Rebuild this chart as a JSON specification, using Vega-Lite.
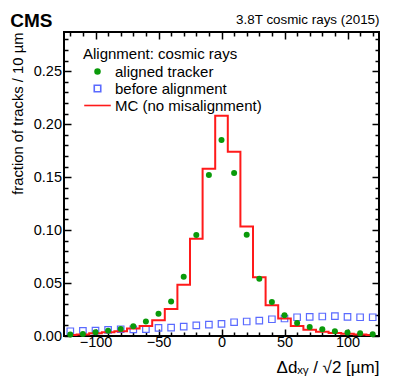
{
  "$schema": "https://vega.github.io/schema/vega-lite/v6.json",
  "width": 315,
  "height": 304,
  "autosize": "none",
  "padding": {"left": 64, "top": 32, "right": 20, "bottom": 51},
  "background": "white",
  "config": {
    "font": "Liberation Sans",
    "view": {"stroke": "black", "strokeWidth": 2},
    "axis": {"domain": false, "grid": false, "tickColor": "black", "tickWidth": 1.5, "labelColor": "black", "titleColor": "black", "labelFont": "Liberation Sans", "titleFont": "Liberation Sans", "titleFontWeight": "normal", "labelFontSize": 14.5},
    "legend": {"titleFont": "Liberation Sans", "labelFont": "Liberation Sans", "titleColor": "black", "labelColor": "black"}
  },
  "title": {"text": "CMS", "anchor": "start", "fontSize": 19, "fontWeight": "bold", "font": "Liberation Sans", "color": "black", "offset": -19},
  "data": {"values": [
    {"series": "aligned tracker", "x": -120, "y": 0.0013},
    {"series": "aligned tracker", "x": -110, "y": 0.002},
    {"series": "aligned tracker", "x": -100, "y": 0.0035},
    {"series": "aligned tracker", "x": -90, "y": 0.005},
    {"series": "aligned tracker", "x": -80, "y": 0.0067},
    {"series": "aligned tracker", "x": -70, "y": 0.0092},
    {"series": "aligned tracker", "x": -60, "y": 0.0137},
    {"series": "aligned tracker", "x": -50, "y": 0.0209},
    {"series": "aligned tracker", "x": -40, "y": 0.0326},
    {"series": "aligned tracker", "x": -30, "y": 0.056},
    {"series": "aligned tracker", "x": -20, "y": 0.0953},
    {"series": "aligned tracker", "x": -10, "y": 0.152},
    {"series": "aligned tracker", "x": 0, "y": 0.185},
    {"series": "aligned tracker", "x": 10, "y": 0.154},
    {"series": "aligned tracker", "x": 20, "y": 0.0955},
    {"series": "aligned tracker", "x": 30, "y": 0.054},
    {"series": "aligned tracker", "x": 40, "y": 0.032},
    {"series": "aligned tracker", "x": 50, "y": 0.0196},
    {"series": "aligned tracker", "x": 60, "y": 0.0123},
    {"series": "aligned tracker", "x": 70, "y": 0.0085},
    {"series": "aligned tracker", "x": 80, "y": 0.0064},
    {"series": "aligned tracker", "x": 90, "y": 0.0045},
    {"series": "aligned tracker", "x": 100, "y": 0.0032},
    {"series": "aligned tracker", "x": 110, "y": 0.0026},
    {"series": "aligned tracker", "x": 120, "y": 0.0016},
    {"series": "before alignment", "x": -120, "y": 0.0045},
    {"series": "before alignment", "x": -110, "y": 0.0048},
    {"series": "before alignment", "x": -100, "y": 0.005},
    {"series": "before alignment", "x": -90, "y": 0.0057},
    {"series": "before alignment", "x": -80, "y": 0.0064},
    {"series": "before alignment", "x": -70, "y": 0.0062},
    {"series": "before alignment", "x": -60, "y": 0.0064},
    {"series": "before alignment", "x": -50, "y": 0.0076},
    {"series": "before alignment", "x": -40, "y": 0.0079},
    {"series": "before alignment", "x": -30, "y": 0.0089},
    {"series": "before alignment", "x": -20, "y": 0.0101},
    {"series": "before alignment", "x": -10, "y": 0.0108},
    {"series": "before alignment", "x": 0, "y": 0.0114},
    {"series": "before alignment", "x": 10, "y": 0.013},
    {"series": "before alignment", "x": 20, "y": 0.0137},
    {"series": "before alignment", "x": 30, "y": 0.0146},
    {"series": "before alignment", "x": 40, "y": 0.0158},
    {"series": "before alignment", "x": 50, "y": 0.0165},
    {"series": "before alignment", "x": 60, "y": 0.0177},
    {"series": "before alignment", "x": 70, "y": 0.018},
    {"series": "before alignment", "x": 80, "y": 0.0184},
    {"series": "before alignment", "x": 90, "y": 0.0187},
    {"series": "before alignment", "x": 100, "y": 0.018},
    {"series": "before alignment", "x": 110, "y": 0.0177},
    {"series": "before alignment", "x": 120, "y": 0.0177},
    {"series": "MC (no misalignment)", "x": -120, "y": 0.001},
    {"series": "MC (no misalignment)", "x": -110, "y": 0.0015},
    {"series": "MC (no misalignment)", "x": -100, "y": 0.0025},
    {"series": "MC (no misalignment)", "x": -90, "y": 0.0035},
    {"series": "MC (no misalignment)", "x": -80, "y": 0.0045},
    {"series": "MC (no misalignment)", "x": -70, "y": 0.007},
    {"series": "MC (no misalignment)", "x": -60, "y": 0.0095},
    {"series": "MC (no misalignment)", "x": -50, "y": 0.0149},
    {"series": "MC (no misalignment)", "x": -40, "y": 0.0256},
    {"series": "MC (no misalignment)", "x": -30, "y": 0.0484},
    {"series": "MC (no misalignment)", "x": -20, "y": 0.0917},
    {"series": "MC (no misalignment)", "x": -10, "y": 0.158},
    {"series": "MC (no misalignment)", "x": 0, "y": 0.208},
    {"series": "MC (no misalignment)", "x": 10, "y": 0.174},
    {"series": "MC (no misalignment)", "x": 20, "y": 0.1034},
    {"series": "MC (no misalignment)", "x": 30, "y": 0.0554},
    {"series": "MC (no misalignment)", "x": 40, "y": 0.0291},
    {"series": "MC (no misalignment)", "x": 50, "y": 0.0165},
    {"series": "MC (no misalignment)", "x": 60, "y": 0.0095},
    {"series": "MC (no misalignment)", "x": 70, "y": 0.006},
    {"series": "MC (no misalignment)", "x": 80, "y": 0.004},
    {"series": "MC (no misalignment)", "x": 90, "y": 0.0028},
    {"series": "MC (no misalignment)", "x": 100, "y": 0.0022},
    {"series": "MC (no misalignment)", "x": 110, "y": 0.0015},
    {"series": "MC (no misalignment)", "x": 120, "y": 0.001}
  ]},
  "resolve": {"axis": {"x": "independent", "y": "independent"}},
  "layer": [
    {
      "transform": [{"filter": "datum.series === 'before alignment'"}],
      "mark": {"type": "point", "shape": "square", "filled": false, "size": 42, "strokeWidth": 1.2, "opacity": 1},
      "encoding": {
        "x": {"field": "x", "type": "quantitative", "scale": {"domain": [-125, 125], "nice": false, "zero": false},
          "axis": {"orient": "bottom", "values": [-120,-110,-100,-90,-80,-70,-60,-50,-40,-30,-20,-10,0,10,20,30,40,50,60,70,80,90,100,110,120],
            "labelExpr": "datum.value % 50 === 0 ? (datum.value < 0 ? '\u2212' + abs(datum.value) : datum.label) : ''",
            "tickSize": {"condition": {"test": "datum.value % 50 === 0", "value": -7}, "value": -4},
            "labelPadding": 6, "title": "\u0394d\u2093\u1d67 / \u221a2 [\u00b5m]", "titleAnchor": "end", "titleFontSize": 17, "titlePadding": 11}},
        "y": {"field": "y", "type": "quantitative", "scale": {"domain": [0, 0.287], "nice": false},
          "axis": {"orient": "left", "values": [0,0.01,0.02,0.03,0.04,0.05,0.06,0.07,0.08,0.09,0.1,0.11,0.12,0.13,0.14,0.15,0.16,0.17,0.18,0.19,0.2,0.21,0.22,0.23,0.24,0.25,0.26,0.27,0.28],
            "labelExpr": "round(datum.value * 100) % 5 === 0 ? format(datum.value, '.2f') : ''",
            "tickSize": {"condition": {"test": "round(datum.value * 100) % 5 === 0", "value": -7}, "value": -4},
            "labelPadding": 9.5, "title": "fraction of tracks / 10 \u00b5m", "titleAnchor": "end", "titleFontSize": 14.8, "titlePadding": 8}},
        "stroke": {"field": "series", "type": "nominal",
          "scale": {"domain": ["aligned tracker", "before alignment", "MC (no misalignment)"], "range": ["transparent", "#5a6aff", "#ff1a1a"]},
          "legend": {"title": "Alignment: cosmic rays", "orient": "none", "legendX": 19, "legendY": 15, "titleFontSize": 15, "titleFontWeight": "normal", "titlePadding": 2, "labelFontSize": 15, "labelOffset": 10, "rowPadding": 1, "symbolSize": 42, "symbolOffset": 7, "symbolStrokeWidth": 1.6}},
        "shape": {"field": "series", "type": "nominal",
          "scale": {"domain": ["aligned tracker", "before alignment", "MC (no misalignment)"], "range": ["circle", "square", "M-4.1,0H4.1"]},
          "legend": {"title": "Alignment: cosmic rays", "orient": "none", "legendX": 19, "legendY": 15, "titleFontSize": 15, "titleFontWeight": "normal", "titlePadding": 2, "labelFontSize": 15, "labelOffset": 10, "rowPadding": 1, "symbolSize": 42, "symbolOffset": 7, "symbolStrokeWidth": 1.6}}
      }
    },
    {
      "transform": [{"filter": "datum.series === 'MC (no misalignment)'"}],
      "mark": {"type": "line", "interpolate": "step", "strokeWidth": 2},
      "encoding": {
        "x": {"field": "x", "type": "quantitative",
          "axis": {"orient": "top", "values": [-120,-110,-100,-90,-80,-70,-60,-50,-40,-30,-20,-10,0,10,20,30,40,50,60,70,80,90,100,110,120],
            "labels": false,
            "tickSize": {"condition": {"test": "datum.value % 50 === 0", "value": -7}, "value": -4},
            "title": "3.8T cosmic rays (2015)", "titleAnchor": "end", "titleFontSize": 13.4, "titlePadding": 5}},
        "y": {"field": "y", "type": "quantitative",
          "axis": {"orient": "right", "values": [0,0.01,0.02,0.03,0.04,0.05,0.06,0.07,0.08,0.09,0.1,0.11,0.12,0.13,0.14,0.15,0.16,0.17,0.18,0.19,0.2,0.21,0.22,0.23,0.24,0.25,0.26,0.27,0.28],
            "labels": false,
            "tickSize": {"condition": {"test": "round(datum.value * 100) % 5 === 0", "value": -7}, "value": -4},
            "title": null}},
        "stroke": {"field": "series", "type": "nominal",
          "legend": {"title": "Alignment: cosmic rays", "orient": "none", "legendX": 19, "legendY": 15, "titleFontSize": 15, "titleFontWeight": "normal", "titlePadding": 2, "labelFontSize": 15, "labelOffset": 10, "rowPadding": 1, "symbolSize": 42, "symbolOffset": 7, "symbolStrokeWidth": 1.6}}
      }
    },
    {
      "transform": [{"filter": "datum.series === 'aligned tracker'"}],
      "mark": {"type": "point", "filled": true, "size": 36, "opacity": 1, "strokeWidth": 0},
      "encoding": {
        "x": {"field": "x", "type": "quantitative", "axis": null},
        "y": {"field": "y", "type": "quantitative", "axis": null},
        "fill": {"field": "series", "type": "nominal",
          "scale": {"domain": ["aligned tracker", "before alignment", "MC (no misalignment)"], "range": ["#0a9a0a", "transparent", "transparent"]},
          "legend": {"title": "Alignment: cosmic rays", "orient": "none", "legendX": 19, "legendY": 15, "titleFontSize": 15, "titleFontWeight": "normal", "titlePadding": 2, "labelFontSize": 15, "labelOffset": 10, "rowPadding": 1, "symbolSize": 42, "symbolOffset": 7, "symbolStrokeWidth": 1.6}},
        "shape": {"field": "series", "type": "nominal",
          "legend": {"title": "Alignment: cosmic rays", "orient": "none", "legendX": 19, "legendY": 15, "titleFontSize": 15, "titleFontWeight": "normal", "titlePadding": 2, "labelFontSize": 15, "labelOffset": 10, "rowPadding": 1, "symbolSize": 42, "symbolOffset": 7, "symbolStrokeWidth": 1.6}}
      }
    }
  ]
}
